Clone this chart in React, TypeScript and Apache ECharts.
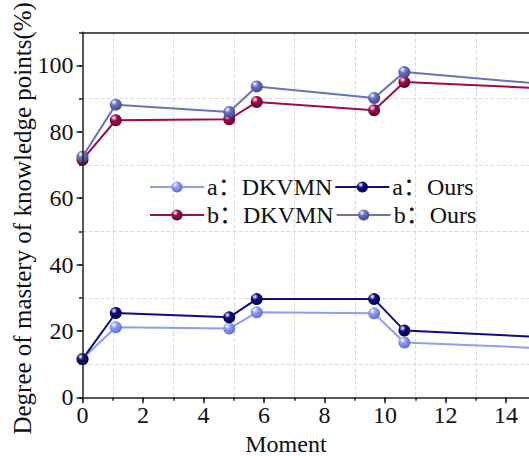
import React, { useEffect, useRef } from "react";
import * as echarts from "echarts";

const xValues = [0, 1.1, 4.85, 5.76, 9.64, 10.64, 16];
const aDKVMN = [11.6, 21.1, 20.7, 25.6, 25.3, 16.5, 14.5];
const aOurs = [11.5, 25.4, 24.1, 29.6, 29.6, 20.1, 17.8];
const bDKVMN = [71.6, 83.5, 83.8, 89.0, 86.5, 95.0, 92.8];
const bOurs = [72.5, 88.2, 86.0, 93.7, 90.2, 98.0, 93.8];

const seriesNames = ["a：DKVMN", "a：Ours", "b：DKVMN", "b：Ours"];
const seriesValues = [aDKVMN, aOurs, bDKVMN, bOurs];
const lineColors = ["#8c9ef4", "#0e0e82", "#a00a50", "#6a73ba"];
const darkColors = ["#5a6cd0", "#00004a", "#5a0028", "#3c4590"];

const xTitle = "Moment";
const yTitle = "Degree of mastery of knowledge points(%)";

const FONT = "'Liberation Serif', 'Times New Roman', 'Noto Sans CJK SC', serif";

export default function App() {
  const ref = useRef<HTMLDivElement>(null);
  useEffect(() => {
    if (!ref.current) return;
    const chart = echarts.init(ref.current, undefined, { renderer: "svg" });
    const series = seriesNames.map((name, i) => ({
      name,
      type: "line",
      data: xValues.map((x, j) => [x, seriesValues[i][j]]),
      symbol: "circle",
      symbolSize: 12,
      clip: true,
      lineStyle: { color: lineColors[i], width: 2 },
      itemStyle: {
        color: {
          type: "radial",
          x: 0.35,
          y: 0.3,
          r: 0.75,
          colorStops: [
            { offset: 0, color: "#ffffff" },
            { offset: 0.35, color: lineColors[i] },
            { offset: 1, color: darkColors[i] },
          ],
        },
      },
      xAxisIndex: 0,
      yAxisIndex: 0,
    }));
    const axisLine = { show: true, lineStyle: { color: "#222", width: 1.5 } };
    const legendCommon = {
      left: 144,
      itemWidth: 54,
      itemHeight: 14,
      itemGap: 2,
      textStyle: { fontFamily: FONT, fontSize: 24, color: "#111", padding: [0, 0, 0, -2] },
    };
    chart.setOption({
      animation: false,
      grid: {
        left: 82.5,
        top: 32.3,
        width: 453.75,
        height: 365,
        show: false,
        containLabel: false,
        outerBoundsMode: "none",
      },
      legend: [
        { ...legendCommon, top: 170, data: [seriesNames[0], seriesNames[1]] },
        { ...legendCommon, top: 198, data: [seriesNames[2], seriesNames[3]] },
      ],
      xAxis: [
        {
          type: "value",
          min: 0,
          max: 15,
          interval: 2,
          z: 5,
          axisLine,
          axisTick: { show: true, length: 6, lineStyle: { color: "#222", width: 1.5 } },
          axisLabel: {
            showMaxLabel: false,
            margin: 6,
            fontFamily: FONT,
            fontSize: 24,
            color: "#111",
            formatter: (v: number) => (v > 14 ? "" : String(v)),
          },
          splitLine: { show: false },
          name: xTitle,
          nameLocation: "middle",
          nameGap: 37,
          nameMoveOverlap: false,
          nameTextStyle: {
            fontFamily: FONT,
            fontSize: 24,
            lineHeight: 20,
            color: "#111",
            padding: [0, 47, 0, 0],
          },
        },
        {
          type: "value",
          min: 0,
          max: 15,
          interval: 1,
          position: "bottom",
          axisLine: { show: false },
          axisTick: { show: true, length: 3.5, lineStyle: { color: "#222", width: 1.5 } },
          axisLabel: { show: false },
          splitLine: {
            show: true,
            lineStyle: { color: ["transparent", "#dcdcdc"], type: "dashed", width: 1 },
          },
        },
        {
          type: "value",
          min: 0,
          max: 15,
          position: "top",
          z: 5,
          axisLine,
          axisTick: { show: false },
          axisLabel: { show: false },
          splitLine: { show: false },
        },
      ],
      yAxis: [
        {
          type: "value",
          min: 0,
          max: 110,
          interval: 20,
          z: 5,
          axisLine,
          axisTick: { show: true, length: 6, lineStyle: { color: "#222", width: 1.5 } },
          axisLabel: {
            showMaxLabel: false,
            margin: 9,
            fontFamily: FONT,
            fontSize: 24,
            color: "#111",
            formatter: (v: number) => (v > 100 ? "" : String(v)),
          },
          splitLine: { show: false },
          name: yTitle,
          nameLocation: "middle",
          nameGap: 48,
          nameMoveOverlap: false,
          nameTextStyle: { fontFamily: FONT, fontSize: 25, color: "#111", padding: [0, 7, 0, 0] },
        },
        {
          type: "value",
          min: 0,
          max: 110,
          interval: 10,
          position: "left",
          axisLine: { show: false },
          axisTick: { show: true, length: 3.5, lineStyle: { color: "#222", width: 1.5 } },
          axisLabel: { show: false },
          splitLine: {
            show: true,
            lineStyle: { color: ["transparent", "#dcdcdc"], type: "dashed", width: 1 },
          },
        },
      ],
      series,
    });
    return () => chart.dispose();
  }, []);
  return (
    <div
      ref={ref}
      style={{ position: "fixed", left: 0, top: 0, width: 529, height: 456, background: "#fff" }}
    />
  );
}
